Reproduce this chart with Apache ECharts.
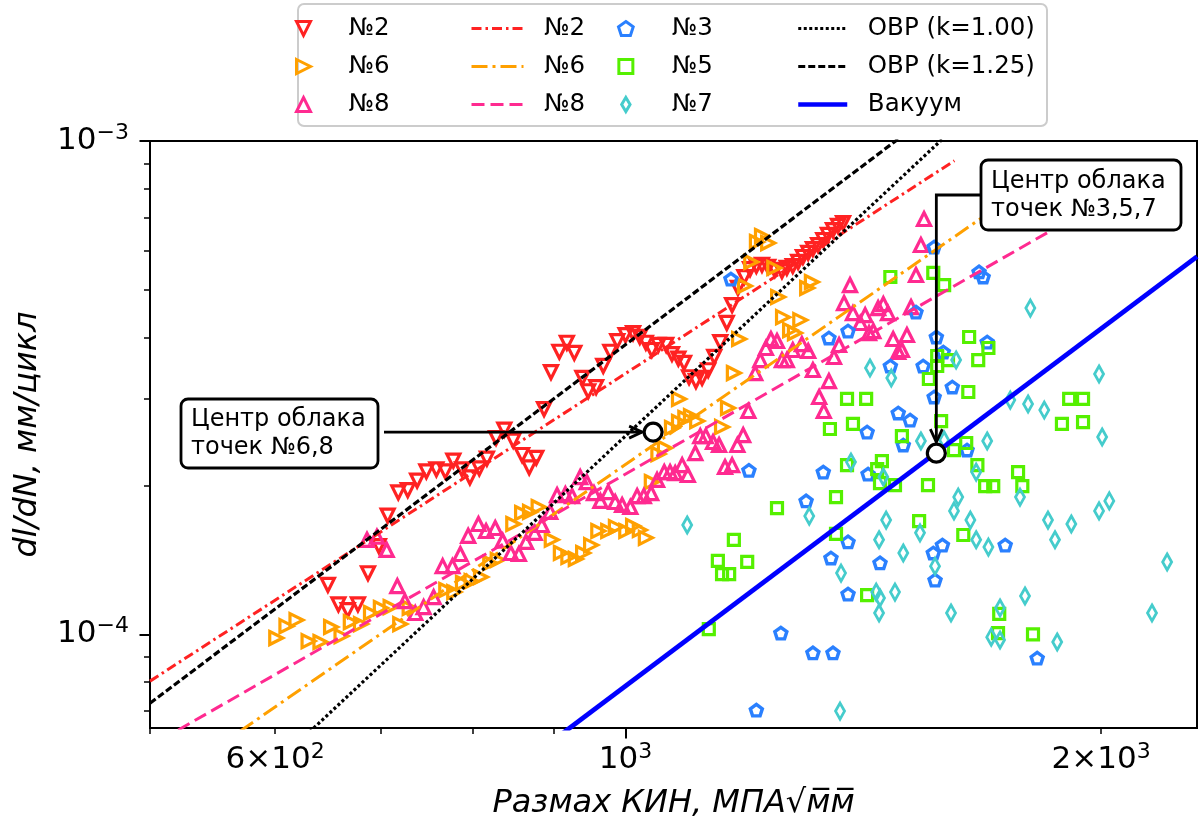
<!DOCTYPE html>
<html>
<head>
<meta charset="utf-8">
<script src="https://cdn.jsdelivr.net/npm/echarts@6/dist/echarts.min.js"></script>
<style>
  html, body { margin: 0; padding: 0; background: #fff; }
  #chart { width: 1200px; height: 825px; }
</style>
</head>
<body>
<div id="chart"></div>
<script>
// x: размах КИН, МПа√мм ; y: dl/dN в единицах 1e-4 мм/цикл
const n2X = [648,658,667,677,687,698,707,718,728,738,748,759,769,778,788,797,808,817,828,838,849,860,869,878,888,897,908,918,928,939,947,958,968,978,988,1000,1011,1021,1030,1039,1049,1061,1070,1080,1089,1097,1108,1118,1128,1138,1148,1159,1168,1178,1189,1199,1210,1220,1231,1243,1256,1265,1276,1286,1295,1305,1314,1324,1334,1343,1353,1363,1373];
const n2Y = [1.26,1.15,1.12,1.15,1.33,1.51,1.74,1.94,1.96,2.05,2.14,2.16,2.14,2.25,2.16,2.08,2.17,2.27,2.50,2.60,2.47,2.31,2.18,2.28,2.86,3.40,3.74,3.90,3.72,3.31,3.11,3.17,3.50,3.74,3.93,4.04,4.08,4.01,3.90,3.77,3.86,3.86,3.70,3.62,3.55,3.32,3.26,3.31,3.43,3.65,3.91,4.28,4.65,5.04,5.30,5.50,5.58,5.61,5.56,5.48,5.45,5.53,5.58,5.69,5.82,5.93,6.04,6.15,6.30,6.45,6.60,6.73,6.82];

const n6X = [601,610,619,630,641,651,661,670,680,690,700,710,720,730,770,779,789,799,810,821,830,849,860,870,881,898,910,920,930,940,951,961,975,986,1001,1011,1021,1030,1039,1049,1059,1070,1081,1081,1091,1100,1110,1151,1161,1171,1180,1190,1201,1211,1220,1231,1242,1249,1258,1271,1280,1290,1303,1312];
const n6Y = [0.983,1.039,1.069,0.969,0.965,1.035,0.992,1.059,1.049,1.105,1.131,1.136,1.049,1.131,1.230,1.218,1.271,1.282,1.307,1.396,1.416,1.674,1.762,1.771,1.812,1.555,1.462,1.435,1.422,1.462,1.517,1.620,1.620,1.650,1.620,1.658,1.628,1.569,2.036,2.320,2.386,2.620,3.000,2.694,2.745,2.770,2.706,2.633,2.876,3.386,3.969,5.083,5.685,6.240,6.418,6.211,5.529,4.828,4.395,4.138,4.081,4.335,5.035,5.178];

const n8X = [686,696,706,717,725,736,745,756,766,777,786,795,807,816,827,836,846,856,865,876,885,896,905,916,925,936,945,955,964,975,985,995,1007,1017,1027,1038,1047,1058,1067,1075,1086,1095,1107,1115,1124,1136,1146,1156,1168,1177,1187,1196,1208,1217,1227,1236,1247,1256,1265,1276,1293,1305,1314,1326,1335,1345,1355,1365,1375,1387,1393,1408,1418,1426,1435,1445,1456,1466,1477,1488,1496,1507,1516,1527,1538,1545];
const n8Y = [1.555,1.577,1.483,1.253,1.168,1.105,1.136,1.190,1.375,1.375,1.455,1.584,1.674,1.620,1.643,1.548,1.462,1.455,1.540,1.606,1.666,1.771,1.916,1.925,1.907,2.084,2.036,1.934,1.864,1.943,1.855,1.829,1.812,1.907,1.907,1.934,2.056,2.133,2.133,2.123,2.203,2.104,2.331,2.523,2.523,2.454,2.420,2.184,2.203,2.420,2.535,2.836,3.386,3.598,3.806,3.969,3.932,3.598,3.598,3.770,3.877,3.753,3.434,3.028,2.836,3.262,3.649,3.859,4.694,5.106,4.478,4.277,4.437,4.081,4.119,4.585,4.672,4.478,3.969,3.735,3.770,4.044,4.607,5.351,6.154,6.948];

const n3X = [1166,1197,1210,1254,1301,1314,1334,1345,1349,1353,1383,1383,1383,1422,1424,1449,1471,1488,1499,1514,1527,1543,1566,1568,1568,1570,1573,1587,1589,1610,1645,1674,1684,1694,1739,1822];
const n3Y = [5.25,2.15,0.702,1.006,1.864,0.917,2.133,3.988,1.428,0.917,4.119,1.540,1.207,2.571,2.113,1.396,3.499,2.810,2.420,2.718,4.499,3.499,1.462,6.097,3.028,1.288,4.006,1.517,3.735,3.172,2.364,5.429,5.301,3.913,1.517,0.895];

const n5X = [1129,1144,1151,1163,1171,1194,1247,1347,1359,1359,1381,1381,1393,1420,1422,1443,1449,1453,1471,1481,1496,1534,1554,1556,1566,1575,1575,1584,1591,1600,1614,1636,1643,1648,1650,1670,1672,1689,1697,1709,1721,1724,1772,1783,1811,1889,1909,1948,1948];
const n5Y = [1.025,1.409,1.325,1.325,1.555,1.402,1.803,2.608,1.898,1.598,2.203,3.000,2.670,3.000,1.201,2.163,2.026,2.245,5.301,2.007,2.523,1.697,2.007,3.293,5.404,3.666,3.499,2.706,5.106,3.598,2.364,1.590,2.443,3.099,4.006,2.203,3.598,1.998,3.806,1.998,1.006,1.100,2.133,1.998,1.000,2.670,3.000,3.000,2.694];

const n7X = [1094,1307,1369,1367,1389,1428,1441,1447,1447,1449,1456,1462,1473,1481,1499,1536,1538,1570,1591,1607,1614,1619,1624,1653,1667,1667,1694,1697,1704,1726,1726,1752,1777,1790,1798,1804,1841,1851,1870,1876,1915,1994,1994,2003,2024,2154,2202];
const n7Y = [1.666,1.737,1.331,0.699,2.235,3.467,1.218,1.105,1.555,1.185,2.084,1.705,3.308,1.218,1.462,1.606,2.466,1.375,2.477,1.105,1.779,3.598,1.898,1.705,2.133,1.555,2.466,1.503,0.987,1.131,0.974,2.985,1.898,1.196,2.930,4.585,2.849,1.705,1.555,0.965,1.674,3.371,1.779,2.512,1.864,1.105,1.402];

// прямые (концы отрезков)
const fit2X = [500, 1615];   const fit2Y = [0.804, 9.12];
const fit6X = [570, 1680];   const fit6Y = [0.636, 6.98];
const fit8X = [521, 1857];   const fit8Y = [0.64, 6.57];
const ovr100X = [620, 1600]; const ovr100Y = [0.602, 10.34];
const ovr125X = [500, 1500]; const ovr125Y = [0.725, 10.29];
const vacX = [900, 2300];    const vacY = [0.610, 5.83];

// центры облаков
const center68 = [1041, 2.57];
const center357 = [1573, 2.33];

// оси
const xMinorTicks = [500, 600, 700, 800, 900, 2000];
const xMajorTicks = [1000];
const xLabelValues = [600, 1000, 2000];
const xLabelText = ['{b|6×10}{s|2}', '{b|10}{s|3}', '{b|2×10}{s|3}'];
const yMinorTicks = [7e-5, 8e-5, 9e-5, 2e-4, 3e-4, 4e-4, 5e-4, 6e-4, 7e-4, 8e-4, 9e-4];
const yMajorTicks = [1e-4, 1e-3];
const yLabelValues = [1e-4, 1e-3];
const yLabelText = ['{b|10}{s|−4}', '{b|10}{s|−3}'];

const UNIT = 1e-4;
const pts = (xs, ys) => xs.map((x, i) => [x, ys[i] * UNIT]);
const pick = (vals, texts) => v => texts[vals.findIndex(t => Math.abs(t - v) / t < 1e-6)] || '';

const FONT = 'DejaVu Sans';
const TRI_DOWN = 'path://M0,0L2,0L1,2Z';
const TRI_RIGHT = 'path://M0,0L2,1L0,2Z';
const TRI_UP = 'path://M1,0L2,2L0,2Z';
const PENTAGON = 'path://M1,0L1.951,0.691L1.588,1.809L0.412,1.809L0.049,0.691Z';
const SQUARE = 'path://M0,0L1,0L1,1L0,1Z';
const THIN_DIAMOND = 'path://M0.6,0L1.2,1L0.6,2L0,1Z';

function scatter(name, data, symbol, size, color, bw) {
  return {
    type: 'scatter', name, data, symbol, symbolSize: size, z: 2, silent: true,
    itemStyle: { color: 'rgba(255,255,255,0)', borderColor: color, borderWidth: bw, opacity: 1 }
  };
}
function fitLine(name, data, color, type, width) {
  return {
    type: 'line', name, data, symbol: 'none', z: 3, silent: true,
    lineStyle: { color, type, width }, itemStyle: { color }
  };
}

const rich = {
  b: { fontSize: 31, lineHeight: 38, fontFamily: FONT, color: '#000' },
  s: { fontSize: 22, lineHeight: 22, fontFamily: FONT, color: '#000', verticalAlign: 'top' }
};
const gridBox = { left: 150, right: 3, top: 141, bottom: 97 };

const legendCommon = {
  orient: 'vertical', top: 16, padding: 0, itemGap: 13, itemHeight: 14,
  selectedMode: false, textStyle: { fontSize: 24.5, fontFamily: FONT, color: '#000' },
  lineStyle: { width: 3 }, itemStyle: { borderWidth: 3, opacity: 1 }
};
const noSym = { color: 'rgba(0,0,0,0)', borderWidth: 0 };

const option = {
  animation: false,
  backgroundColor: '#fff',
  textStyle: { fontFamily: FONT },
  grid: [
    Object.assign({ show: true, borderColor: '#000', borderWidth: 2, backgroundColor: 'transparent' }, gridBox),
    Object.assign({ show: false }, gridBox)
  ],
  legend: [
    Object.assign({}, legendCommon, { left: 295, itemWidth: 80, data: ['№2', '№6', '№8'] }),
    Object.assign({}, legendCommon, {
      left: 470, itemWidth: 52, formatter: n => '  ' + n.trim(),
      data: [{ name: '№2 ', itemStyle: noSym }, { name: '№6 ', itemStyle: noSym }, { name: '№8 ', itemStyle: noSym }]
    }),
    Object.assign({}, legendCommon, { left: 617, itemWidth: 82, data: ['№3', '№5', '№7'] }),
    Object.assign({}, legendCommon, {
      left: 796, itemWidth: 49, formatter: '  {name}',
      data: [{ name: 'ОВР (k=1.00)', itemStyle: noSym }, { name: 'ОВР (k=1.25)', itemStyle: noSym },
             { name: 'Вакуум', itemStyle: noSym, lineStyle: { width: 4.5 } }]
    })
  ],
  xAxis: [
    {
      gridIndex: 0, type: 'log', logBase: 10, min: 500, max: 2300,
      name: 'Размах КИН, МПА√м\u0305м\u0305', nameLocation: 'middle', nameGap: 60,
      nameTextStyle: { fontSize: 32, fontStyle: 'italic', fontFamily: FONT, color: '#000' },
      axisLine: { lineStyle: { color: '#000', width: 2 } },
      axisTick: { customValues: xMinorTicks, length: 6, lineStyle: { color: '#000', width: 1.5 } },
      axisLabel: { customValues: xLabelValues, formatter: pick(xLabelValues, xLabelText), rich, margin: 13 },
      splitLine: { show: false }, minorTick: { show: false }
    },
    {
      gridIndex: 1, type: 'log', logBase: 10, min: 500, max: 2300,
      axisLine: { show: false },
      axisTick: { customValues: xMajorTicks, length: 10.5, lineStyle: { color: '#000', width: 2 } },
      axisLabel: { show: false }, splitLine: { show: false }
    }
  ],
  yAxis: [
    {
      gridIndex: 0, type: 'log', logBase: 10, min: 6.46e-5, max: 1e-3,
      name: 'dl/dN, мм/цикл', nameLocation: 'middle', nameGap: 106, nameRotate: 90,
      nameTextStyle: { fontSize: 32, fontStyle: 'italic', fontFamily: FONT, color: '#000' },
      axisLine: { lineStyle: { color: '#000', width: 2 } },
      axisTick: { customValues: yMinorTicks, length: 6, lineStyle: { color: '#000', width: 1.5 } },
      axisLabel: { customValues: yLabelValues, formatter: pick(yLabelValues, yLabelText), rich, margin: 21 },
      splitLine: { show: false }
    },
    {
      gridIndex: 1, type: 'log', logBase: 10, min: 6.46e-5, max: 1e-3,
      axisLine: { show: false },
      axisTick: { customValues: yMajorTicks, length: 10.5, lineStyle: { color: '#000', width: 2 } },
      axisLabel: { show: false }, splitLine: { show: false }
    }
  ],
  series: [
    scatter('№2', pts(n2X, n2Y), TRI_DOWN, 13, '#ff2222', 3.2),
    scatter('№6', pts(n6X, n6Y), TRI_RIGHT, 13, '#ffa000', 3.2),
    scatter('№8', pts(n8X, n8Y), TRI_UP, 13, '#ff2a90', 3.2),
    scatter('№3', pts(n3X, n3Y), PENTAGON, [12, 11.5], '#2a80ff', 3.4),
    scatter('№5', pts(n5X, n5Y), SQUARE, 11, '#55f000', 3.2),
    scatter('№7', pts(n7X, n7Y), THIN_DIAMOND, [9, 16], '#45cccc', 3),
    fitLine('№2 ', pts(fit2X, fit2Y), '#ff2222', [10, 4, 2.5, 4], 3),
    fitLine('№6 ', pts(fit6X, fit6Y), '#ffa000', [16, 5, 3, 5], 3),
    fitLine('№8 ', pts(fit8X, fit8Y), '#ff2a90', [13, 6], 3),
    fitLine('ОВР (k=1.00)', pts(ovr100X, ovr100Y), '#000', [3, 2.5], 3.2),
    fitLine('ОВР (k=1.25)', pts(ovr125X, ovr125Y), '#000', [7, 3], 3.2),
    fitLine('Вакуум', pts(vacX, vacY), '#0000ff', 'solid', 4.8),
    {
      type: 'scatter', name: 'центры', z: 5, silent: true,
      data: [pts([center68[0]], [center68[1]])[0], pts([center357[0]], [center357[1]])[0]],
      symbol: 'circle', symbolSize: 18,
      itemStyle: { color: '#fff', borderColor: '#000', borderWidth: 3.2, opacity: 1 }
    }
  ]
};

const chart = echarts.init(document.getElementById('chart'));
chart.setOption(option);

const toPx = p => chart.convertToPixel({ xAxisIndex: 0, yAxisIndex: 0 }, [p[0], p[1] * UNIT]);
const c1 = toPx(center68);
const c2 = toPx(center357);
const R = 11;
const arrowStyle = { stroke: '#000', lineWidth: 2.8, fill: null };
const boxStyle = { fill: '#fff', stroke: '#000', lineWidth: 2.8 };
const noteText = { fontSize: 24, fontFamily: FONT, fill: '#000', verticalAlign: 'middle', lineHeight: 28.5 };

const tip1 = [c1[0] - R, c1[1]];
const tip2 = [c2[0], c2[1] - R];

chart.setOption({
  graphic: { elements: [
    { type: 'rect', z: 0, shape: { x: 298, y: 4, width: 749, height: 122, r: 6 },
      style: { fill: '#fff', stroke: '#cccccc', lineWidth: 2 } },
    { type: 'polyline', z: 100, shape: { points: [[384, c1[1]], tip1] }, style: arrowStyle },
    { type: 'polyline', z: 100, shape: { points: [[tip1[0] - 13, tip1[1] - 6], tip1, [tip1[0] - 13, tip1[1] + 6]] }, style: arrowStyle },
    { type: 'polyline', z: 100, shape: { points: [[981, 195], [c2[0], 195], tip2] }, style: arrowStyle },
    { type: 'polyline', z: 100, shape: { points: [[tip2[0] - 6, tip2[1] - 13], tip2, [tip2[0] + 6, tip2[1] - 13]] }, style: arrowStyle },
    { type: 'rect', z: 100, shape: { x: 181, y: 399, width: 197, height: 69, r: 7 }, style: boxStyle },
    { type: 'text', z: 101, x: 191, y: 434, style: Object.assign({ text: 'Центр облака\nточек №6,8' }, noteText) },
    { type: 'rect', z: 100, shape: { x: 981, y: 160, width: 200, height: 70, r: 7 }, style: boxStyle },
    { type: 'text', z: 101, x: 991, y: 196, style: Object.assign({ text: 'Центр облака\nточек №3,5,7' }, noteText) }
  ] }
});
</script>
</body>
</html>
